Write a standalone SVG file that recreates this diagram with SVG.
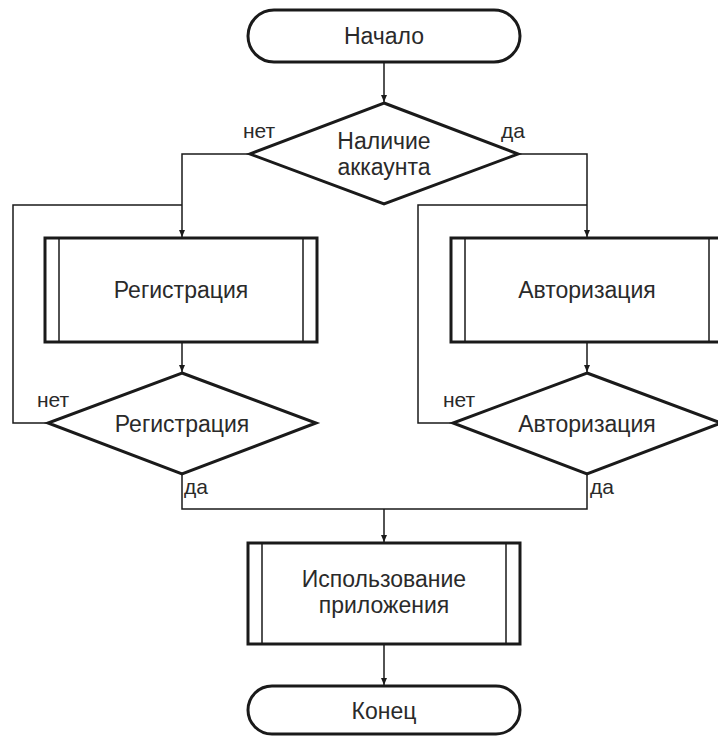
<svg xmlns="http://www.w3.org/2000/svg" width="718" height="736" viewBox="0 0 718 736">
<style>
.shape{fill:#fff;stroke:#1a1a1a;stroke-width:3}
.inner{fill:none;stroke:#1a1a1a;stroke-width:1.5}
.conn{fill:none;stroke:#1a1a1a;stroke-width:1.5}
.t{font-family:"Liberation Sans",Arial,sans-serif;font-size:23px;fill:#2a2a2a;text-anchor:middle}
.l{font-family:"Liberation Sans",Arial,sans-serif;font-size:21px;fill:#2a2a2a}
</style>
<defs>
<marker id="arr" markerWidth="8" markerHeight="8" refX="7" refY="4" orient="auto" markerUnits="userSpaceOnUse">
<path d="M0,1 L7,4 L0,7 Z" fill="#1a1a1a"/>
</marker>
</defs>
<rect width="718" height="736" fill="#fff"/>
<g id="connectors">
<path class="conn" d="M384,62 V102" marker-end="url(#arr)"/>
<path class="conn" d="M250,154 H182 V237" marker-end="url(#arr)"/>
<path class="conn" d="M518,154 H587 V237" marker-end="url(#arr)"/>
<path class="conn" d="M182,342 V372" marker-end="url(#arr)"/>
<path class="conn" d="M587,342 V372" marker-end="url(#arr)"/>
<path class="conn" d="M48,423 H13 V205 H182"/>
<path class="conn" d="M453,423 H418 V205 H587"/>
<path class="conn" d="M182,475 V509 H587 V475"/>
<path class="conn" d="M384,509 V542" marker-end="url(#arr)"/>
<path class="conn" d="M384,644 V685" marker-end="url(#arr)"/>
</g>
<g id="start">
<rect class="shape" x="248" y="10" width="272" height="52" rx="26"/>
<text class="t" x="384" y="44">Начало</text>
</g>
<g id="account">
<polygon class="shape" points="384,103 518,154 384,204 250,154"/>
<text class="t" x="384" y="149">Наличие</text>
<text class="t" x="384" y="175">аккаунта</text>
</g>
<g id="lbl-account">
<text class="l" x="243" y="138">нет</text>
<text class="l" x="501" y="138">да</text>
</g>
<g id="reg-process">
<rect class="shape" x="45" y="238" width="272" height="104"/>
<path class="inner" d="M59,238 V342 M303,238 V342"/>
<text class="t" x="181" y="298">Регистрация</text>
</g>
<g id="auth-process">
<rect class="shape" x="451" y="238" width="272" height="104"/>
<path class="inner" d="M465,238 V342 M709,238 V342"/>
<text class="t" x="587" y="298">Авторизация</text>
</g>
<g id="reg-check">
<polygon class="shape" points="182,373 316,423 182,474 48,423"/>
<text class="t" x="182" y="432">Регистрация</text>
<text class="l" x="37" y="407">нет</text>
<text class="l" x="184" y="494">да</text>
</g>
<g id="auth-check">
<polygon class="shape" points="587,373 721,423 587,474 453,423"/>
<text class="t" x="587" y="432">Авторизация</text>
<text class="l" x="443" y="407">нет</text>
<text class="l" x="590" y="494">да</text>
</g>
<g id="use-app">
<rect class="shape" x="248" y="543" width="272" height="101"/>
<path class="inner" d="M262,543 V644 M506,543 V644"/>
<text class="t" x="384" y="587">Использование</text>
<text class="t" x="384" y="613">приложения</text>
</g>
<g id="end">
<rect class="shape" x="248" y="686" width="272" height="48" rx="24"/>
<text class="t" x="384" y="719">Конец</text>
</g>
</svg>
